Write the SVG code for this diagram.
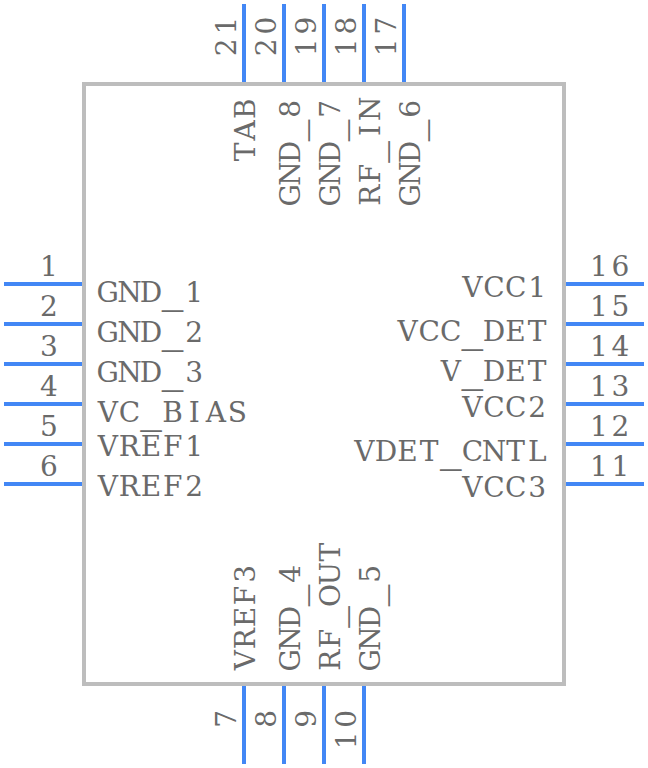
<svg xmlns="http://www.w3.org/2000/svg" width="648" height="768" viewBox="0 0 648 768">
<style>
.pin{stroke:#4287f5;stroke-width:4;fill:none}
.body{stroke:#bdbdbd;stroke-width:4;fill:#fff}
text{font-family:"DejaVu Serif",serif;font-size:28px;fill:#6a6a6a;text-anchor:middle}
.u{font-family:"Liberation Mono",monospace;font-size:36px}
</style>
<rect width="648" height="768" fill="#fff"/>
<g id="body"><rect class="body" x="84" y="84" width="480" height="600"/></g>
<g id="connectors">
<path class="pin" d="M4 284H82M4 324H82M4 364H82M4 404H82M4 444H82M4 484H82"/>
<path class="pin" d="M566 284H644M566 324H644M566 364H644M566 404H644M566 444H644M566 484H644"/>
<path class="pin" d="M244 4V82M284 4V82M324 4V82M364 4V82M404 4V82"/>
<path class="pin" d="M244 686V764M284 686V764M324 686V764M364 686V764"/>
</g>
<g id="pin-left">
<text x="49" y="276">1</text><text x="49" y="316">2</text><text x="49" y="356">3</text><text x="49" y="396">4</text><text x="49" y="436">5</text><text x="49" y="476">6</text>
<text x="107.8 129.4 151 172.6 194.2" y="301.5">GND<tspan class="u" dy="6">_</tspan><tspan dy="-6">1</tspan></text>
<text x="107.8 129.4 151 172.6 194.2" y="341.5">GND<tspan class="u" dy="6">_</tspan><tspan dy="-6">2</tspan></text>
<text x="107.8 129.4 151 172.6 194.2" y="381.5">GND<tspan class="u" dy="6">_</tspan><tspan dy="-6">3</tspan></text>
<text x="107.8 129.4 151 172.6 194.2 215.8 237.4" y="421.5">VC<tspan class="u" dy="6">_</tspan><tspan dy="-6">BIAS</tspan></text>
<text x="107.8 129.4 151 172.6 194.2" y="456">VREF1</text>
<text x="107.8 129.4 151 172.6 194.2" y="496">VREF2</text>
</g>
<g id="pin-right">
<text x="598.8 620.4" y="276">16</text><text x="598.8 620.4" y="316">15</text><text x="598.8 620.4" y="356">14</text><text x="598.8 620.4" y="396">13</text><text x="598.8 620.4" y="436">12</text><text x="598.8 620.4" y="476">11</text>
<text x="472.4 494 515.6 537.2" y="297">VCC1</text>
<text x="407.6 429.2 450.8 472.4 494 515.6 537.2" y="341">VCC<tspan class="u" dy="6">_</tspan><tspan dy="-6">DET</tspan></text>
<text x="450.8 472.4 494 515.6 537.2" y="381">V<tspan class="u" dy="6">_</tspan><tspan dy="-6">DET</tspan></text>
<text x="472.4 494 515.6 537.2" y="417">VCC2</text>
<text x="364.4 386 407.6 429.2 450.8 472.4 494 515.6 537.2" y="461">VDET<tspan class="u" dy="6">_</tspan><tspan dy="-6">CNTL</tspan></text>
<text x="472.4 494 515.6 537.2" y="497">VCC3</text>
</g>
<g id="pin-top">
<text transform="translate(236 58) rotate(-90)" x="10.8 32.4">21</text><text transform="translate(276 58) rotate(-90)" x="10.8 32.4">20</text><text transform="translate(316 58) rotate(-90)" x="10.8 32.4">19</text><text transform="translate(356 58) rotate(-90)" x="10.8 32.4">18</text><text transform="translate(396 58) rotate(-90)" x="10.8 32.4">17</text>
<text transform="translate(255 98) rotate(-90)" x="-54 -32.4 -10.8">TAB</text>
<text transform="translate(300 98) rotate(-90)" x="-97.2 -75.6 -54 -32.4 -10.8">GND<tspan class="u" dy="6">_</tspan><tspan dy="-6">8</tspan></text>
<text transform="translate(340 98) rotate(-90)" x="-97.2 -75.6 -54 -32.4 -10.8">GND<tspan class="u" dy="6">_</tspan><tspan dy="-6">7</tspan></text>
<text transform="translate(380 98) rotate(-90)" x="-97.2 -75.6 -54 -32.4 -10.8">RF<tspan class="u" dy="6">_</tspan><tspan dy="-6">IN</tspan></text>
<text transform="translate(420 98) rotate(-90)" x="-97.2 -75.6 -54 -32.4 -10.8">GND<tspan class="u" dy="6">_</tspan><tspan dy="-6">6</tspan></text>
</g>
<g id="pin-bottom">
<text transform="translate(236 708) rotate(-90)" x="-10.8">7</text><text transform="translate(276 708) rotate(-90)" x="-10.8">8</text><text transform="translate(316 708) rotate(-90)" x="-10.8">9</text><text transform="translate(356 708) rotate(-90)" x="-32.4 -10.8">10</text>
<text transform="translate(255 671) rotate(-90)" x="10.8 32.4 54 75.6 97.2">VREF3</text>
<text transform="translate(300 671) rotate(-90)" x="10.8 32.4 54 75.6 97.2">GND<tspan class="u" dy="6">_</tspan><tspan dy="-6">4</tspan></text>
<text transform="translate(340 671) rotate(-90)" x="10.8 32.4 54 75.6 97.2 118.8">RF<tspan class="u" dy="6">_</tspan><tspan dy="-6">OUT</tspan></text>
<text transform="translate(380 671) rotate(-90)" x="10.8 32.4 54 75.6 97.2">GND<tspan class="u" dy="6">_</tspan><tspan dy="-6">5</tspan></text>
</g>
</svg>
